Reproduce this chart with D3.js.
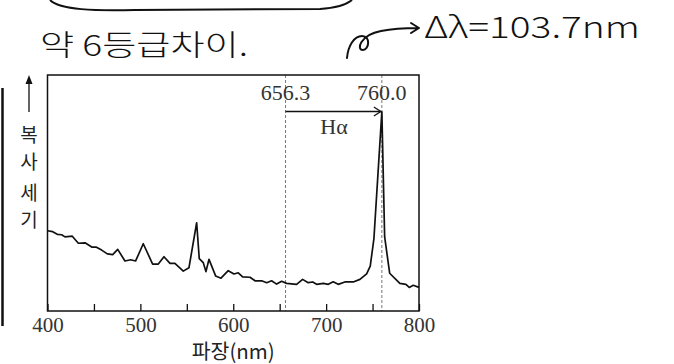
<!DOCTYPE html>
<html><head><meta charset="utf-8">
<script src="https://cdn.jsdelivr.net/npm/d3@7"></script>
<style>
html,body{margin:0;padding:0;background:#fff;}
svg{display:block;}
</style></head>
<body>
<svg id="chart" width="674" height="364"></svg>
<script>
// ---- data ----
const wavelengths = [400,405.6,410.5,415.3,418.8,426.7,433.2,440.4,447.6,452.2,458.3,464.4,470.2,475.6,483.4,489.6,494.9,503.1,513.2,519.3,525.4,531.9,537.2,546.2,552.3,560.6,563.4,567.7,570.6,573.9,581.1,586.8,594.6,600.8,605.4,610.1,618.0,623.4,630.6,636.0,641.3,646.7,652.1,657.5,668.2,674.7,680.7,685.5,689.8,696.9,702.3,707.6,713.0,720.2,729.2,736.4,743.6,747.5,751.5,760,763,768.4,779.4,785.9,789.5,793.8,800];
const intensity   = [34.0,33.6,32.5,32.3,31.4,31.7,28.7,28.9,27.1,27.1,25.8,24.2,23.9,26.1,21.2,21.7,21.2,28.5,19.9,19.9,23.0,20.2,20.2,16.9,18.3,37.4,22.2,20.5,16.7,21.9,14.8,13.9,17.1,15.7,16.2,14.5,14.3,12.8,12.8,12.0,12.8,11.4,12.6,11.7,11.3,13.4,12.0,12.3,11.3,11.7,11.3,12.4,11.3,12.3,12.3,13.4,15.7,19.0,30.8,84.4,31.5,16.0,11.7,11.3,10.0,10.9,10.0];
const tickValues = [400,450,500,550,600,650,700,750,800];
const tickLabels = ["400","","500","","600","","700","","800"];
const markerLines = [656.3, 760.0];
const markerLabels = ["656.3","760.0"];
const xLabel = "파장(nm)";
const yLabelChars = ["복","사","세","기"];
const lineName = "Hα";
const noteLeft = "약 6등급차이.";
const noteRight = "Δλ=103.7nm";

// ---- layout ----
const svg = d3.select("#chart");
const L = 47.5, R = 419, T = 75, B = 311;
const x = d3.scaleLinear().domain([400,800]).range([L,R]);
const y = d3.scaleLinear().domain([0,100]).range([B,T]);
const serif = "'Liberation Serif','DejaVu Serif',serif";
const kr = "'Noto Sans CJK KR','Noto Sans',sans-serif";

// handwritten decorations
svg.append("path").attr("d","M50,0 C60,10 95,11 135,10 L320,9 C336,8 346,5 352,0")
  .attr("fill","none").attr("stroke","#111").attr("stroke-width",2);
svg.append("line").attr("x1",2.5).attr("x2",2.5).attr("y1",88).attr("y2",326)
  .attr("stroke","#111").attr("stroke-width",2.5);
svg.append("text").attr("x",40).attr("y",56).style("font-family",kr).style("font-weight",300)
  .style("font-size","29px").attr("textLength",208).attr("lengthAdjust","spacingAndGlyphs")
  .attr("fill","#111").text(noteLeft);
svg.append("text").attr("x",424).attr("y",38).style("font-family",kr).style("font-weight",300)
  .style("font-size","30px").attr("textLength",216).attr("lengthAdjust","spacingAndGlyphs")
  .attr("fill","#111").text(noteRight);
svg.append("path")
  .attr("d","M347,58 C348,46 354,36 362,36 C371,36 369,50 363,50 C356,50 360,35 381,31 C396,28 408,28 418,28 M411,23 L419,28 L411,33")
  .attr("fill","none").attr("stroke","#111").attr("stroke-width",2).attr("stroke-linecap","round").attr("stroke-linejoin","round");

// dashed marker lines
svg.selectAll("line.mk").data(markerLines).join("line").attr("class","mk")
  .attr("x1",d=>x(d)).attr("x2",d=>x(d)).attr("y1",T).attr("y2",B)
  .attr("stroke","#777").attr("stroke-width",1).attr("stroke-dasharray","3,2");
svg.selectAll("text.mk").data(markerLines).join("text").attr("class","mk")
  .attr("x",d=>x(d)).attr("y",100).attr("text-anchor","middle")
  .style("font-family",serif).style("font-size","22px").attr("fill","#333")
  .text((d,i)=>markerLabels[i]);

// arrow between lines
const ay = 111.5;
svg.append("line").attr("x1",x(markerLines[0])).attr("x2",x(markerLines[1])-1).attr("y1",ay).attr("y2",ay)
  .attr("stroke","#111").attr("stroke-width",1.3);
svg.append("path").attr("d",`M${x(markerLines[1])-8},${ay-4.5} L${x(markerLines[1])-1},${ay} L${x(markerLines[1])-8},${ay+4.5}`)
  .attr("fill","none").attr("stroke","#111").attr("stroke-width",1.3);
svg.append("text").attr("x",334).attr("y",134).attr("text-anchor","middle")
  .style("font-family",serif).style("font-size","22px").attr("fill","#333").text(lineName);

// spectrum line
const pts = wavelengths.map((w,i)=>[w,intensity[i]]);
svg.append("path").datum(pts)
  .attr("d", d3.line().x(d=>x(d[0])).y(d=>y(d[1])))
  .attr("fill","none").attr("stroke","#111").attr("stroke-width",1.7).attr("stroke-linejoin","round");

// axis
const ax = svg.append("g").attr("transform",`translate(0,${B})`)
  .call(d3.axisBottom(x).tickValues(tickValues).tickSizeInner(-7).tickSizeOuter(0).tickFormat((d,i)=>tickLabels[i]));
ax.attr("font-family",null).attr("font-size",null);
ax.select(".domain").remove();
ax.selectAll(".tick line").attr("stroke","#111").attr("stroke-width",1.3);
ax.selectAll(".tick text").attr("y",21).attr("dy",0)
  .style("font-family",serif).style("font-size","21px").attr("fill","#333");

// frame
svg.append("rect").attr("x",L).attr("y",T).attr("width",R-L).attr("height",B-T)
  .attr("fill","none").attr("stroke","#111").attr("stroke-width",1.5);

// x label
svg.append("text").attr("x",(L+R)/2).attr("y",359).attr("text-anchor","middle")
  .style("font-family",kr).style("font-size","20.5px").attr("fill","#222").text(xLabel);

// y label + arrow
svg.append("line").attr("x1",29).attr("x2",29).attr("y1",112).attr("y2",82).attr("stroke","#111").attr("stroke-width",1.3);
svg.append("path").attr("d","M25.5,84 L29,75 L32.5,84 Z").attr("fill","#111");
const yBase = [142,169,200,227];
svg.selectAll("text.yl").data(yLabelChars).join("text").attr("class","yl")
  .attr("x",29).attr("y",(d,i)=>yBase[i]).attr("text-anchor","middle")
  .style("font-family",kr).style("font-size","19px").attr("fill","#222").text(d=>d);
</script>
</body></html>
